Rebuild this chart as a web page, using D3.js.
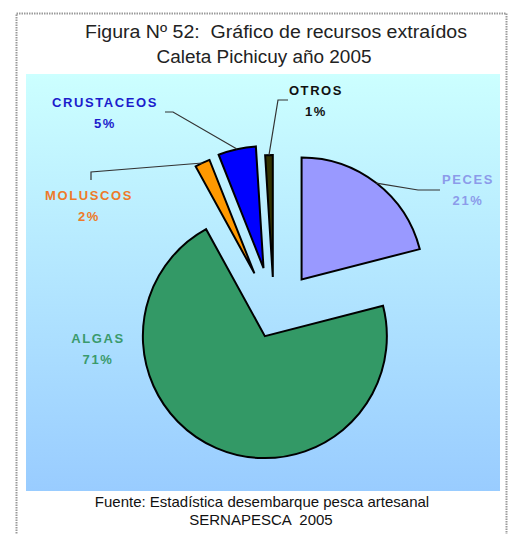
<!DOCTYPE html>
<html>
<head>
<meta charset="utf-8">
<script src="https://cdn.jsdelivr.net/npm/d3@7"></script>
<style>
  html, body { margin: 0; padding: 0; background: #fff; }
  svg { display: block; }
  text { font-family: "Liberation Sans", Arial, sans-serif; }
</style>
</head>
<body>
<svg id="chart" width="508" height="534"></svg>
<script>
// ---- data ----
const categories = ["PECES", "ALGAS", "MOLUSCOS", "CRUSTACEOS", "OTROS"];
const values = [21, 71, 2, 5, 1];
const pctLabels = ["21%", "71%", "2%", "5%", "1%"];
const titleLines = ["Figura Nº 52:  Gráfico de recursos extraídos", "Caleta Pichicuy año 2005"];
const sourceLines = ["Fuente: Estadística desembarque pesca artesanal", "SERNAPESCA  2005"];

// ---- styles / layout ----
const sliceColors = ["#9999FF", "#339966", "#FF9900", "#0000FF", "#333300"];
const labelColors = ["#8C9BEA", "#3A9A6C", "#EE7A2A", "#1C1CCC", "#111111"];
const explode = [45, 23, 46, 48, 38];
const labelAnchor = [[468, 184], [98, 343], [89, 200], [105, 107], [316, 95]];
const leaderStart = [[[440, 190], [418, 190]], null, [[91, 180], [91, 172]], [[165, 112], [173, 112]], [[288, 100], [278, 100]]];

const svg = d3.select("#chart");
const W = 508, H = 534;
const cx = 274, cy = 315, R = 122;

// frame
svg.append("rect").attr("x", 0).attr("y", 0).attr("width", W).attr("height", H).attr("fill", "#fff");
svg.append("rect").attr("x", 16.5).attr("y", 13.5).attr("width", 490).attr("height", 540)
  .attr("fill", "none").attr("stroke", "#9a9a9a").attr("stroke-width", 2).attr("stroke-dasharray", "1.5,1");

// plot background gradient
const defs = svg.append("defs");
const grad = defs.append("linearGradient").attr("id", "bg").attr("x1", 0).attr("y1", 0).attr("x2", 0).attr("y2", 1);
grad.append("stop").attr("offset", "0%").attr("stop-color", "#CCFFFF");
grad.append("stop").attr("offset", "100%").attr("stop-color", "#99CCFF");
svg.append("rect").attr("x", 26).attr("y", 74).attr("width", 474).attr("height", 417).attr("fill", "url(#bg)");

// title
const titleX = [276, 264], titleY = [38, 63], titleLen = [382, 215];
titleLines.forEach((t, i) => {
  svg.append("text").attr("x", titleX[i]).attr("y", titleY[i]).attr("text-anchor", "middle")
    .attr("font-size", 17.5).attr("fill", "#222").style("white-space", "pre")
    .attr("textLength", titleLen[i]).attr("lengthAdjust", "spacingAndGlyphs").text(t);
});

// source
const srcX = [262, 261], srcY = [507, 525];
sourceLines.forEach((t, i) => {
  svg.append("text").attr("x", srcX[i]).attr("y", srcY[i]).attr("text-anchor", "middle")
    .attr("font-size", 15).attr("fill", "#111").style("white-space", "pre").text(t);
});

// pie
const pie = d3.pie().sort(null).startAngle(0).endAngle(2 * Math.PI).value(d => d);
const arcs = pie(values);
const arc = d3.arc().innerRadius(0).outerRadius(R);
const g = svg.append("g").attr("transform", `translate(${cx},${cy})`);

function dirOf(a) { const m = (a.startAngle + a.endAngle) / 2; return [Math.sin(m), -Math.cos(m)]; }

g.selectAll("path.slice").data(arcs).join("path")
  .attr("class", "slice")
  .attr("transform", (d, i) => { const u = dirOf(d); return `translate(${u[0] * explode[i]},${u[1] * explode[i]})`; })
  .attr("d", arc)
  .attr("fill", (d, i) => sliceColors[i])
  .attr("stroke", "#000").attr("stroke-width", 2).attr("stroke-linejoin", "miter");

// leader lines
arcs.forEach((d, i) => {
  if (!leaderStart[i]) return;
  const u = dirOf(d);
  const end = [cx + u[0] * (explode[i] + R), cy + u[1] * (explode[i] + R)];
  const pts = leaderStart[i].concat([end]);
  svg.append("path").attr("d", d3.line()(pts)).attr("fill", "none")
    .attr("stroke", "#333").attr("stroke-width", 1.2);
});

// labels
arcs.forEach((d, i) => {
  const [x, y] = labelAnchor[i];
  const t = svg.append("text").attr("text-anchor", "middle").attr("font-size", 13)
    .attr("font-weight", "bold").attr("fill", labelColors[i]).style("letter-spacing", "1.6px");
  t.append("tspan").attr("x", x).attr("y", y).text(categories[i]);
  t.append("tspan").attr("x", x).attr("y", y + 21).text(pctLabels[i]);
});
</script>
</body>
</html>
